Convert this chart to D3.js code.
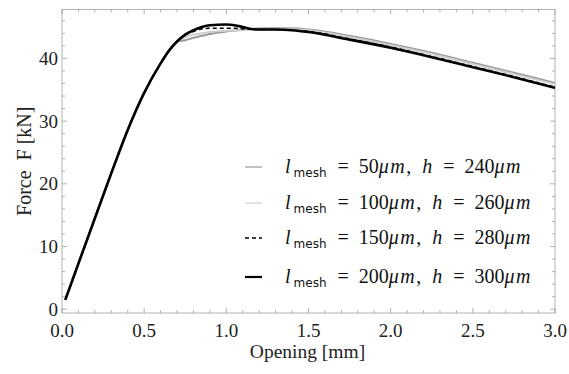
<!DOCTYPE html>
<html>
<head>
<meta charset="utf-8">
<script src="https://cdn.jsdelivr.net/npm/d3@7"></script>
<style>
  body { margin: 0; background: #fff; }
</style>
</head>
<body>
<div id="chart"></div>
<script>
// opening [mm]
const rising = [0.02, 0.1, 0.2, 0.3, 0.4, 0.5, 0.6, 0.65, 0.7];
const risingF = [1.5, 7.3, 14.5, 21.7, 28.6, 34.5, 39.2, 41.2, 42.7];

const tailX = [0.75, 0.8, 0.85, 0.9, 1.0, 1.05, 1.1, 1.15, 1.2, 1.3, 1.4, 1.5, 1.75, 2.0, 2.25, 2.5, 2.75, 3.0];
const f50  = [42.9, 43.3, 43.6, 43.9, 44.3, 44.45, 44.6, 44.7, 44.8, 44.8, 44.8, 44.6, 43.6, 42.3, 40.9, 39.3, 37.7, 36.1];
const f100 = [43.4, 43.8, 44.0, 44.2, 44.4, 44.45, 44.5, 44.6, 44.7, 44.7, 44.65, 44.5, 43.4, 42.1, 40.7, 39.1, 37.5, 35.9];
const f150 = [43.8, 44.3, 44.7, 44.8, 44.8, 44.8, 44.7, 44.65, 44.6, 44.6, 44.5, 44.3, 43.1, 41.8, 40.3, 38.7, 37.1, 35.4];
const f200 = [43.8, 44.5, 45.0, 45.3, 45.4, 45.3, 45.0, 44.7, 44.6, 44.6, 44.5, 44.2, 43.0, 41.7, 40.2, 38.6, 37.0, 35.3];

const meshSizes = ['50', '100', '150', '200'];
const heights = ['240', '260', '280', '300'];
const xTicks = [0, 0.5, 1.0, 1.5, 2.0, 2.5, 3.0];
const yTicks = [0, 10, 20, 30, 40];

const series = [
  { mesh: meshSizes[0], h: heights[0], vals: f50,  color: '#9a9a9a', width: 2, dash: null },
  { mesh: meshSizes[1], h: heights[1], vals: f100, color: '#cfcfcf', width: 2, dash: null },
  { mesh: meshSizes[2], h: heights[2], vals: f150, color: '#000', width: 1.6, dash: '4,3' },
  { mesh: meshSizes[3], h: heights[3], vals: f200, color: '#000', width: 2.6, dash: null }
];

const serif = '"Liberation Serif", "Times New Roman", "DejaVu Serif", serif';
const W = 569, H = 374;
const margin = { top: 9.5, right: 14, bottom: 61, left: 62 };
const width = W - margin.left - margin.right;
const height = H - margin.top - margin.bottom;

const svg = d3.select('#chart').append('svg')
  .attr('width', W).attr('height', H)
  .attr('font-family', serif);
const g = svg.append('g').attr('transform', `translate(${margin.left},${margin.top})`);

const x = d3.scaleLinear().domain([0, 3]).range([0, width]);
const y = d3.scaleLinear().domain([-0.6, 47.8]).range([height, 0]);

const frameColor = '#a0a0a0';

// ticks on all four sides, pointing inward
const xMinor = d3.range(0, 3.0001, 0.1).filter(v => Math.abs(v * 2 - Math.round(v * 2)) > 1e-6);
const yMinor = d3.range(0, 47, 2).filter(v => v % 10 !== 0);

const ticksG = g.append('g').attr('stroke', frameColor).attr('stroke-width', 0.8);
[[xTicks, 5], [xMinor, 3]].forEach(([vals, len]) => {
  vals.forEach(v => {
    ticksG.append('line').attr('x1', x(v)).attr('x2', x(v)).attr('y1', height).attr('y2', height - len);
    ticksG.append('line').attr('x1', x(v)).attr('x2', x(v)).attr('y1', 0).attr('y2', len);
  });
});
[[yTicks, 5], [yMinor, 3]].forEach(([vals, len]) => {
  vals.forEach(v => {
    ticksG.append('line').attr('y1', y(v)).attr('y2', y(v)).attr('x1', 0).attr('x2', len);
    ticksG.append('line').attr('y1', y(v)).attr('y2', y(v)).attr('x1', width).attr('x2', width - len);
  });
});

g.append('rect').attr('width', width).attr('height', height)
  .attr('fill', 'none').attr('stroke', frameColor).attr('stroke-width', 0.8);

// tick labels
g.selectAll('.xl').data(xTicks).enter().append('text')
  .attr('x', d => x(d)).attr('y', height + 24)
  .attr('text-anchor', 'middle').attr('font-size', 19).attr('fill', '#222')
  .text(d => d.toFixed(1));
g.selectAll('.yl').data(yTicks).enter().append('text')
  .attr('x', -4).attr('y', d => y(d) + 6.5)
  .attr('text-anchor', 'end').attr('font-size', 19).attr('fill', '#222')
  .text(d => d);

// axis titles
svg.append('text').attr('x', margin.left + width / 2 - 1).attr('y', 358)
  .attr('text-anchor', 'middle').attr('font-size', 19.5).attr('fill', '#222')
  .text('Opening [mm]');
svg.append('text').attr('transform', `translate(31,${margin.top + height / 2}) rotate(-90)`)
  .attr('text-anchor', 'middle').attr('font-size', 20).attr('fill', '#222')
  .text('Force\u00a0\u00a0F [kN]');

// curves
const line = d3.line().x(d => x(d[0])).y(d => y(d[1])).curve(d3.curveMonotoneX);
series.forEach(s => {
  const pts = rising.map((v, i) => [v, risingF[i]])
    .concat(tailX.map((v, i) => [v, s.vals[i]]));
  g.append('path').datum(pts).attr('d', line)
    .attr('fill', 'none').attr('stroke', s.color).attr('stroke-width', s.width)
    .attr('stroke-dasharray', s.dash).attr('stroke-linejoin', 'round');
});

// legend
const legY = [167, 203, 238, 277];
series.forEach((s, i) => {
  const ly = legY[i] - margin.top;
  g.append('line').attr('x1', 245 - margin.left).attr('x2', 262 - margin.left)
    .attr('y1', ly).attr('y2', ly)
    .attr('stroke', s.color).attr('stroke-width', s.width === 2.6 ? 2.2 : (s.dash ? 1.6 : 1.2))
    .attr('stroke-dasharray', s.dash);
  const t = g.append('text').attr('x', 285 - margin.left).attr('y', ly + 6)
    .attr('font-size', 20).attr('fill', '#111');
  t.append('tspan').attr('font-style', 'italic').text('l');
  t.append('tspan').attr('font-family', '"DejaVu Sans", sans-serif').attr('font-size', 12)
    .attr('dx', 3).attr('dy', 4).text('mesh');
  t.append('tspan').attr('dx', 11).attr('dy', -4).text('=');
  t.append('tspan').attr('dx', 10).text(s.mesh);
  t.append('tspan').attr('font-style', 'italic').attr('letter-spacing', 1.5).text('μm');
  t.append('tspan').text(',');
  t.append('tspan').attr('dx', 11).attr('font-style', 'italic').text('h');
  t.append('tspan').attr('dx', 11).text('=');
  t.append('tspan').attr('dx', 10).text(s.h);
  t.append('tspan').attr('font-style', 'italic').attr('letter-spacing', 1.5).text('μm');
});
</script>
</body>
</html>
